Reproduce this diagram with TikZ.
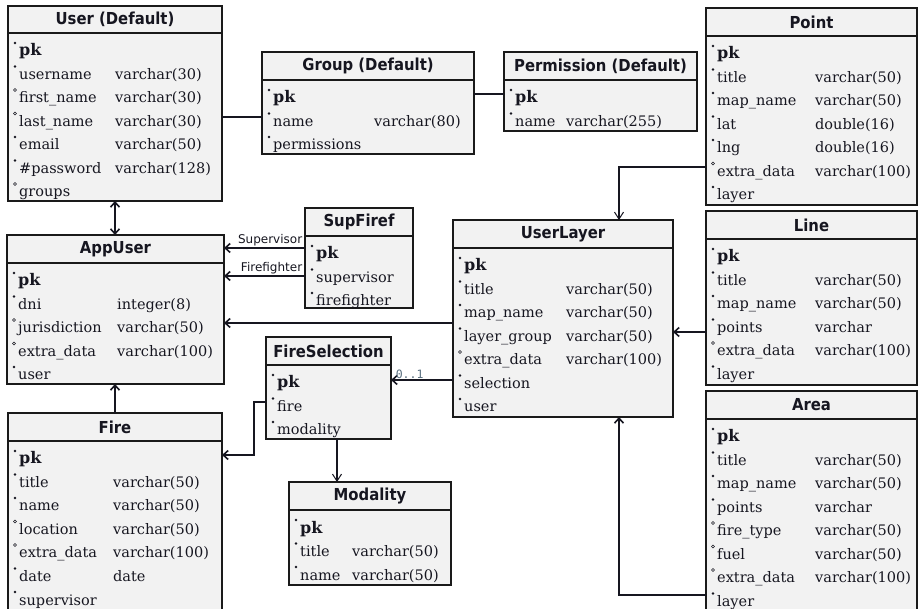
\documentclass[tikz,border=0pt]{standalone}
\usepackage{fontspec}
\setmainfont{DejaVu Serif}
\newfontfamily\headfont{DejaVu Sans}[FakeStretch=0.9]
\newfontfamily\labfont{DejaVu Sans}
\newfontfamily\codefont{DejaVu Sans Mono}
\usetikzlibrary{arrows.meta}

\definecolor{boxfill}{HTML}{F2F2F2}
\definecolor{boxline}{HTML}{1A1A1A}
\definecolor{txt}{HTML}{161620}
\definecolor{multcol}{HTML}{5A7080}

% one table: name, left, top, right, header bottom, bottom, title
\newcommand\entity[7]{%
  \node[entbox, minimum width={(#4-#2)*1pt}, minimum height={(#6-#3)*1pt}]
    (#1) at ({(#2+#4)/2},{(#3+#6)/2}) {};
  \node[enthead, minimum width={(#4-#2)*1pt}, minimum height={(#5-#3)*1pt}]
    (#1-head) at ({(#2+#4)/2},{(#3+#5)/2}) {#7};
  \def\entname{#1}\def\entx{#2}\def\enty{#5}%
}
\newcommand\typecol[1]{\def\enttx{#1}}
% one attribute row: row number, f(illed)/o(pen) marker, name, type
\newcommand\attr[4]{%
  \pgfmathsetmacro\rowy{\enty+18+(#1-1)*23.5}%
  \if f#2\relax
    \fill[txt] (\entx+7,\rowy-8) circle (1.4pt);
  \else
    \draw[txt, line width=0.6pt] (\entx+7,\rowy-8) circle (1.5pt);
  \fi
  \node[attrtxt] (\entname-a#1) at (\entx+11,\rowy+5) {#3};
  \if\relax\detokenize{#4}\relax\else
    \node[attrtxt] (\entname-t#1) at (\enttx,\rowy+5) {#4};
  \fi
}
\newcommand\pk{{\fontsize{16}{16}\selectfont\bfseries pk}}

\tikzset{
  entbox/.style={draw=boxline, fill=boxfill, line width=1.8pt, inner sep=0pt, outer sep=0pt},
  enthead/.style={draw=boxline, fill=boxfill, line width=1.8pt, inner sep=0pt, outer sep=0pt,
    text=txt, font=\headfont\bfseries\fontsize{16.5}{16.5}\selectfont},
  attrtxt/.style={anchor=base west, inner sep=0pt, text=txt,
    font=\fontsize{14.5}{14.5}\selectfont},
  conn/.style={draw=txt, line width=1.6pt},
  tip/.style={-{Straight Barb[length=5pt,width=9pt]}},
  thintip/.style={-{Straight Barb[length=7pt,width=9pt,line width=1pt]}},
  lab/.style={inner sep=1pt, text=txt, font=\labfont\fontsize{12}{12}\selectfont},
  mult/.style={inner sep=1pt, text=multcol, font=\codefont\fontsize{11.5}{11.5}\selectfont},
}

\begin{document}
\begin{tikzpicture}[x=1pt, y=-1pt]
\fill[white] (0,0) rectangle (919,609);
\useasboundingbox (0,0) rectangle (919,609);

% ---------- tables ----------
\entity{user}{8}{6}{222}{33}{201}{User (Default)}
\typecol{115}
\attr{1}{f}{\pk}{}
\attr{2}{f}{username}{varchar(30)}
\attr{3}{o}{first\_name}{varchar(30)}
\attr{4}{o}{last\_name}{varchar(30)}
\attr{5}{f}{email}{varchar(50)}
\attr{6}{f}{ \#password}{varchar(128)}
\attr{7}{o}{groups}{}

\entity{group}{262}{52}{474}{80}{154}{Group (Default)}
\typecol{374}
\attr{1}{f}{\pk}{}
\attr{2}{f}{name}{varchar(80)}
\attr{3}{f}{permissions}{}

\entity{perm}{504}{52}{697}{80}{131}{Permission (Default)}
\typecol{566}
\attr{1}{f}{\pk}{}
\attr{2}{f}{name}{varchar(255)}

\entity{point}{706}{8}{917}{36}{205}{Point}
\typecol{815}
\attr{1}{f}{\pk}{}
\attr{2}{f}{title}{varchar(50)}
\attr{3}{f}{map\_name}{varchar(50)}
\attr{4}{f}{lat}{double(16)}
\attr{5}{f}{lng}{double(16)}
\attr{6}{o}{extra\_data}{varchar(100)}
\attr{7}{f}{layer}{}

\entity{line}{706}{211}{917}{239}{385}{Line}
\typecol{815}
\attr{1}{f}{\pk}{}
\attr{2}{f}{title}{varchar(50)}
\attr{3}{f}{map\_name}{varchar(50)}
\attr{4}{f}{points}{varchar}
\attr{5}{o}{extra\_data}{varchar(100)}
\attr{6}{f}{layer}{}

\entity{area}{706}{391}{917}{419}{625}{Area}
\typecol{815}
\attr{1}{f}{\pk}{}
\attr{2}{f}{title}{varchar(50)}
\attr{3}{f}{map\_name}{varchar(50)}
\attr{4}{f}{points}{varchar}
\attr{5}{o}{fire\_type}{varchar(50)}
\attr{6}{o}{fuel}{varchar(50)}
\attr{7}{o}{extra\_data}{varchar(100)}
\attr{8}{f}{layer}{}

\entity{appuser}{7}{235}{224}{263}{384}{AppUser}
\typecol{117}
\attr{1}{f}{\pk}{}
\attr{2}{f}{dni}{integer(8)}
\attr{3}{o}{jurisdiction}{varchar(50)}
\attr{4}{o}{extra\_data}{varchar(100)}
\attr{5}{f}{user}{}

\entity{supfiref}{305}{208}{413}{236}{308}{SupFiref}
\attr{1}{f}{\pk}{}
\attr{2}{f}{supervisor}{}
\attr{3}{f}{firefighter}{}

\entity{userlayer}{453}{220}{673}{248}{417}{UserLayer}
\typecol{566}
\attr{1}{f}{\pk}{}
\attr{2}{f}{title}{varchar(50)}
\attr{3}{f}{map\_name}{varchar(50)}
\attr{4}{f}{layer\_group}{varchar(50)}
\attr{5}{o}{extra\_data}{varchar(100)}
\attr{6}{f}{selection}{}
\attr{7}{f}{user}{}

\entity{firesel}{266}{337}{391}{365}{439}{FireSelection}
\attr{1}{f}{\pk}{}
\attr{2}{f}{fire}{}
\attr{3}{f}{modality}{}

\entity{modality}{289}{482}{451}{510}{585}{Modality}
\typecol{352}
\attr{1}{f}{\pk}{}
\attr{2}{f}{title}{varchar(50)}
\attr{3}{f}{name}{varchar(50)}

\entity{fire}{8}{413}{222}{441}{625}{Fire}
\typecol{113}
\attr{1}{f}{\pk}{}
\attr{2}{f}{title}{varchar(50)}
\attr{3}{f}{name}{varchar(50)}
\attr{4}{o}{location}{varchar(50)}
\attr{5}{o}{extra\_data}{varchar(100)}
\attr{6}{f}{date}{date}
\attr{7}{f}{supervisor}{}

% ---------- connector levels ----------
\coordinate (yUG) at (0,117);
\coordinate (yGP) at (0,94);
\coordinate (xUA) at (115,0);
\coordinate (ySup) at (0,248);
\coordinate (yFig) at (0,276);
\coordinate (yULA) at (0,323);
\coordinate (yULF) at (0,380);
\coordinate (yFS) at (0,402);
\coordinate (xFS) at (254,0);
\coordinate (yFF) at (0,455);
\coordinate (xFM) at (337,0);
\coordinate (yPU) at (0,167);
\coordinate (xPU) at (619,0);
\coordinate (yLU) at (0,332);
\coordinate (yAU) at (0,595);

% ---------- connectors ----------
\draw[conn] (user.east |- yUG) -- (group.west |- yUG);
\draw[conn] (group.east |- yGP) -- (perm.west |- yGP);
\draw[conn, {Straight Barb[length=5pt,width=9pt]}-{Straight Barb[length=5pt,width=9pt]}]
  (user.south -| xUA) -- (appuser.north -| xUA);
\draw[conn, tip] (supfiref.west |- ySup) -- (appuser.east |- ySup)
  node[lab, pos=0, anchor=south east, xshift=-1pt] (labsup) {Supervisor};
\draw[conn, tip] (supfiref.west |- yFig) -- (appuser.east |- yFig)
  node[lab, pos=0, anchor=south east, xshift=-1pt] (labfig) {Firefighter};
\draw[conn, tip] (userlayer.west |- yULA) -- (appuser.east |- yULA);
\draw[conn, tip] (fire.north -| xUA) -- (appuser.south -| xUA);
\draw[conn, tip] (userlayer.west |- yULF) -- (firesel.east |- yULF)
  node[mult, pos=1, anchor=south west, xshift=3pt] (lab01) {0..1};
\draw[conn, tip] (firesel.west |- yFS) -| (xFS |- yFF) -- (fire.east |- yFF);
\draw[conn, thintip] (firesel.south -| xFM) -- (modality.north -| xFM);
\draw[conn, thintip] (point.west |- yPU) -| (userlayer.north -| xPU);
\draw[conn, tip] (line.west |- yLU) -- (userlayer.east |- yLU);
\draw[conn, tip] (area.west |- yAU) -| (userlayer.south -| xPU);
\end{tikzpicture}
\end{document}
